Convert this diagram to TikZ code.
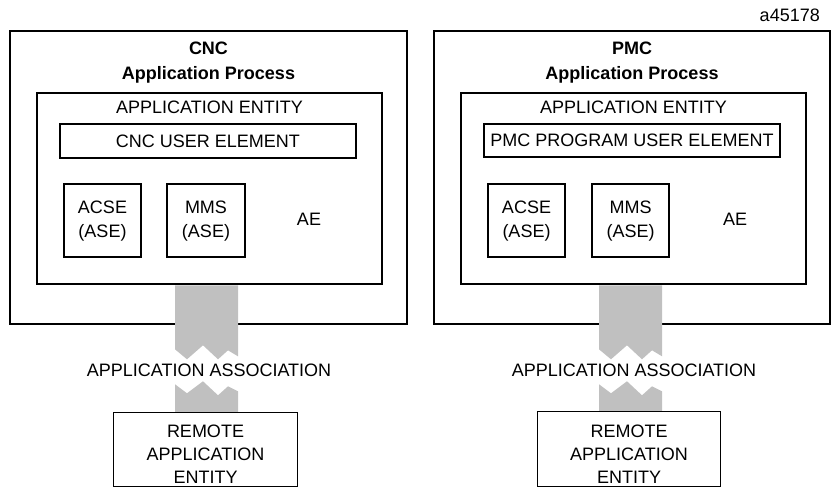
\documentclass[tikz,border=0pt]{standalone}
\usepackage{fontspec}
\setmainfont{Liberation Sans}
\usetikzlibrary{calc}
\definecolor{bandgray}{HTML}{C0C0C0}
\newcommand\assocband[2]{%
  \coordinate (bt) at ([xshift=-34.5pt,yshift=-0.7pt]#1.south);
  \coordinate (br) at ($(bt)+(63,0)$);
  \fill[bandgray] (bt) -- (br) -- ++(0,71) -- ++(-10,-6) -- ++(-10,9)
    -- ++(-15,-14) -- ++(-16,14) -- ++(-12,-10) -- cycle;
  \fill[bandgray] ($(bt)+(0,99)$) -- ++(12,9) -- ++(16,-12) -- ++(15,14)
    -- ++(10,-9) -- ++(10,5) -- (br |- #2.north) -- (bt |- #2.north) -- cycle;
}
\begin{document}
\begin{tikzpicture}[x=1pt,y=-1pt,
  box/.style={draw=black, line width=1.2pt, inner sep=0pt},
  slot/.style={inner sep=0pt},
  frame/.style={draw=black, line width=1.2pt},
  txt/.style={inner sep=0pt, font=\fontsize{18}{24}\selectfont, align=center},
  rtxt/.style={inner sep=0pt, font=\fontsize{18}{23}\selectfont, align=center},
  ttl/.style={inner sep=0pt, font=\fontsize{18}{25}\selectfont\bfseries, align=center}]
\useasboundingbox (0,0) rectangle (832,489);

\node[txt, anchor=east] (fig) at (820,15) {a45178};

% ---------- left (CNC) ----------
\node[box, minimum width=397pt, minimum height=293pt] (cncap) at (208.5,177.5) {};
\node[ttl] (cnctitle) at (208.5,62.5) {CNC\\Application Process};
\node[box, minimum width=345pt, minimum height=191pt] (cncae) at (209.5,188.5) {};
\node[txt] (cncaet) at (209.5,107) {APPLICATION ENTITY};
\node[box, minimum width=296pt, minimum height=34pt] (cncue) at (208,141) {};
\node[txt] (cncuet) at (cncue.center) {CNC USER ELEMENT};
\node[box, minimum width=77pt, minimum height=73pt] (cncacse) at (102.5,220.5) {};
\node[txt] (cncacset) at (102.5,221) {ACSE\\(ASE)};
\node[box, minimum width=78pt, minimum height=73pt] (cncmms) at (206,220.5) {};
\node[txt] (cncmmst) at (206,221) {MMS\\(ASE)};
\node[txt] (cncaelab) at (309,219) {AE};
\node[slot, minimum width=183pt, minimum height=73pt] (cncrem) at (205.5,449.5) {};
\assocband{cncae}{cncrem}
\draw[frame] (cncrem.north west) rectangle (cncrem.south east);
\node[rtxt] (cncremt) at (205.5,454) {REMOTE\\APPLICATION\\ENTITY};
\node[txt] (cncassoc) at (209,370) {APPLICATION ASSOCIATION};

% ---------- right (PMC) ----------
\node[box, minimum width=396pt, minimum height=293pt] (pmcap) at (632,177.5) {};
\node[ttl] (pmctitle) at (632,62.5) {PMC\\Application Process};
\node[box, minimum width=345pt, minimum height=191pt] (pmcae) at (633.5,188.5) {};
\node[txt] (pmcaet) at (633.5,107) {APPLICATION ENTITY};
\node[box, minimum width=296pt, minimum height=33pt] (pmcue) at (632,140.5) {};
\node[txt] (pmcuet) at (pmcue.center) {PMC PROGRAM USER ELEMENT};
\node[box, minimum width=77pt, minimum height=73pt] (pmcacse) at (526.5,220.5) {};
\node[txt] (pmcacset) at (526.5,221) {ACSE\\(ASE)};
\node[box, minimum width=77pt, minimum height=73pt] (pmcmms) at (630.5,220.5) {};
\node[txt] (pmcmmst) at (630.5,221) {MMS\\(ASE)};
\node[txt] (pmcaelab) at (735,219) {AE};
\node[slot, minimum width=182pt, minimum height=74pt] (pmcrem) at (629,449) {};
\assocband{pmcae}{pmcrem}
\draw[frame] (pmcrem.north west) rectangle (pmcrem.south east);
\node[rtxt] (pmcremt) at (629,454) {REMOTE\\APPLICATION\\ENTITY};
\node[txt] (pmcassoc) at (634,370) {APPLICATION ASSOCIATION};
\end{tikzpicture}
\end{document}
